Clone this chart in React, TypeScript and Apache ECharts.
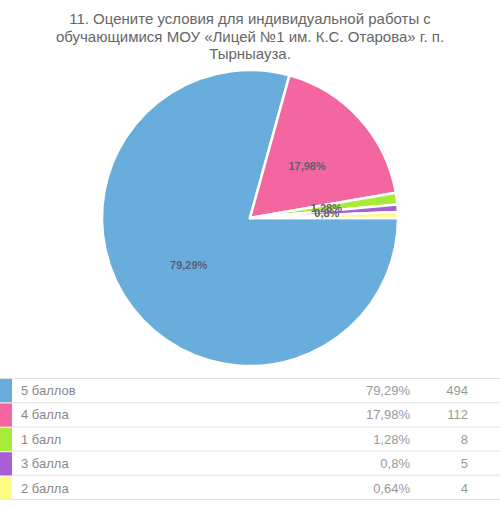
import { useEffect, useRef } from "react";
import * as echarts from "echarts";

const titleLines = [
  "11. Оцените условия для индивидуальной работы с",
  "обучающимися МОУ «Лицей №1 им. К.С. Отарова» г. п.",
  "Тырныауза.",
];
const categories = ["5 баллов", "4 балла", "1 балл", "3 балла", "2 балла"];
const counts = [494, 112, 8, 5, 4];
const colors = ["#68addb", "#f3669f", "#a8ea3a", "#a65fd4", "#fdfd86"];
const showLabel = [true, true, true, true, false];

const total = counts.reduce((a, b) => a + b, 0);
const pct = (v: number) =>
  String(parseFloat(((v / total) * 100).toFixed(2))).replace(".", ",") + "%";

const ROW_TOP = 378.5;
const ROW_H = 24.2;

export default function App() {
  const ref = useRef<HTMLDivElement>(null);

  useEffect(() => {
    document.body.style.margin = "0";
    if (!ref.current) return;
    const chart = echarts.init(ref.current, null, { renderer: "svg" });

    const rowLines = categories.concat([""]).map((_, i) => ({
      type: "line",
      shape: { x1: 0, y1: ROW_TOP + i * ROW_H, x2: 500, y2: ROW_TOP + i * ROW_H },
      style: { stroke: "#e3e3e3", lineWidth: 1 },
      silent: true,
    }));

    chart.setOption({
      animation: false,
      backgroundColor: "#ffffff",
      color: colors,
      title: {
        text: titleLines.join("\n"),
        left: "center",
        top: 5,
        textStyle: {
          fontFamily: "Liberation Sans, Arial, sans-serif",
          fontSize: 15,
          fontWeight: "normal",
          color: "#666666",
          lineHeight: 17.5,
        },
      },
      legend: {
        orient: "vertical",
        left: 0,
        top: ROW_TOP + 0.5,
        height: 140,
        padding: 0,
        icon: "rect",
        itemWidth: 12,
        itemHeight: ROW_H - 1,
        itemGap: 1.2,
        itemStyle: { borderWidth: 0 },
        selectedMode: false,
        data: categories,
        formatter: (name: string) => {
          const i = categories.indexOf(name);
          return `{n|${name}}{p|${pct(counts[i])}}{c|${counts[i]}}`;
        },
        textStyle: {
          fontFamily: "Liberation Sans, Arial, sans-serif",
          fontSize: 13,
          lineHeight: 15,
          color: "#888888",
          rich: {
            n: { width: 329, padding: [0, 0, 0, 4], fontSize: 13, lineHeight: 15, color: "#888888" },
            p: { width: 60, align: "right", fontSize: 13, lineHeight: 15, color: "#999999" },
            c: { width: 58, align: "right", fontSize: 13, lineHeight: 15, color: "#999999" },
          },
        },
      },
      graphic: rowLines,
      series: [
        {
          type: "pie",
          center: [250, 218],
          radius: 148,
          startAngle: 0,
          clockwise: true,
          avoidLabelOverlap: false,
          labelLayout: { hideOverlap: false },
          itemStyle: { borderColor: "#ffffff", borderWidth: 2.5 },
          label: {
            position: "inside",
            fontFamily: "Liberation Sans, Arial, sans-serif",
            fontSize: 11,
            fontWeight: "bold",
            color: "#5d6070",
            formatter: (p: any) => pct(p.value),
          },
          labelLine: { show: false },
          emphasis: { disabled: true },
          data: categories.map((name, i) => ({
            name,
            value: counts[i],
            label: { show: showLabel[i] },
          })),
        },
      ],
    } as any);

    return () => chart.dispose();
  }, []);

  return <div ref={ref} style={{ width: 500, height: 506 }} />;
}
